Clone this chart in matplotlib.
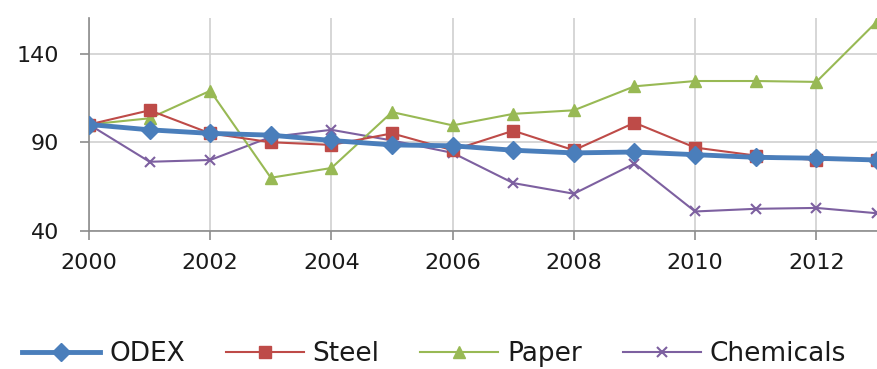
import numpy as np
from matplotlib import pyplot as plt

years = np.arange(2000, 2014)
odex = [100, 97, 95, 94, 91, 88.5, 88, 85.5, 84, 84.5, 83, 81.5, 81, 80]
steel = [100, 108, 95, 90, 88.5, 95, 85.5, 96.5, 85.5, 101, 87, 82.5, 80, 80]
paper = [100, 103.5, 119, 70, 75.5, 107, 99.5, 106, 108, 121.5, 124.5, 124.5, 124, 158]
chemicals = [100, 79, 80, 93, 97, 91, 84, 67, 61, 78, 51, 52.5, 53, 50]

plt.rcParams['font.family'] = ['DejaVu Sans']

fig = plt.figure(figsize=(8.77, 3.69), dpi=100)
ax = fig.add_axes([89 / 877, 1 - 231 / 369, 1 - 89 / 877 + 0.002, (231 - 18) / 369])

ax.plot(years, odex, color='#4a7ebb', lw=3.5, marker='D', ms=9, label='ODEX', zorder=5)
ax.plot(years, steel, color='#be4b48', lw=1.5, marker='s', ms=8, label='Steel', zorder=4)
ax.plot(years, paper, color='#98b954', lw=1.5, marker='^', ms=8, label='Paper', zorder=3)
ax.plot(years, chemicals, color='#7d60a0', lw=1.5, marker='x', ms=7, mew=1.5,
        label='Chemicals', zorder=2)

ax.set_xlim(2000, 2013.03)
ax.set_ylim(40, 160)
ax.set_yticks([40, 90, 140])
ax.set_xticks(np.arange(2000, 2013, 2))
ax.grid(True, color='#d0d0d0', lw=1.2)
ax.set_axisbelow(True)

for side in ['top', 'right']:
    ax.spines[side].set_visible(False)
for side in ['left', 'bottom']:
    ax.spines[side].set_color('#8c8c8c')
    ax.spines[side].set_linewidth(1.2)
ax.tick_params(colors='#8c8c8c', length=6.5, width=1.2, labelsize=16, labelcolor='#1a1a1a')
ax.tick_params(axis='x', pad=9)
ax.tick_params(axis='y', pad=15)

fig.legend(loc='center', bbox_to_anchor=(0.495, 0.04), ncol=4, frameon=False,
           fontsize=19, handlelength=2.95, handletextpad=0.34, columnspacing=1.55,
           labelcolor='#1a1a1a', borderpad=0)

fig.savefig('out.png', dpi=100)
